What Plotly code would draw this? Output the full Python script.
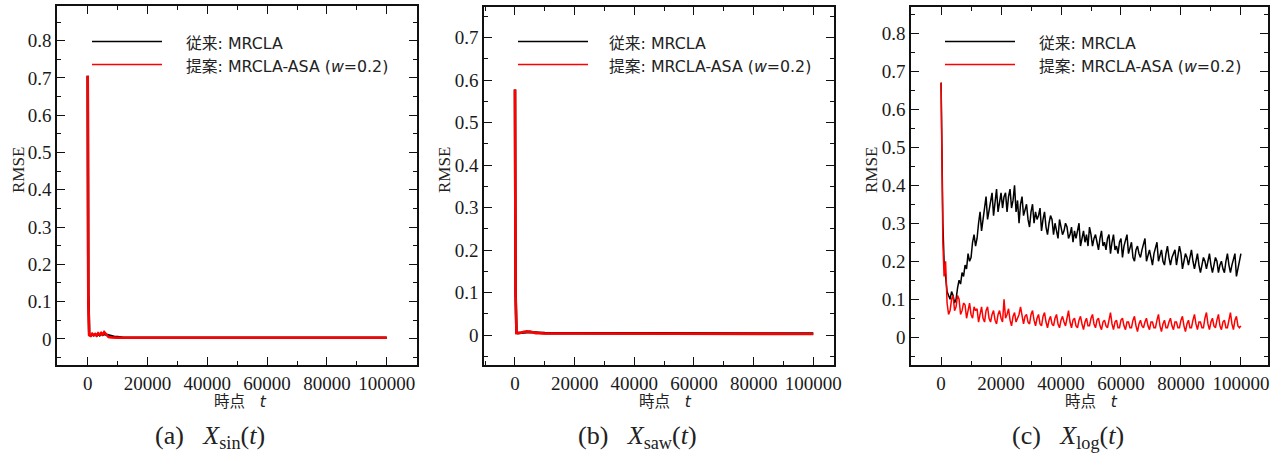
import plotly.graph_objects as go

# ---- (a) X_sin(t) ----
t_sin = [0, 200, 500, 1000, 1500, 2000, 2500, 3000, 3500, 4000, 4500, 5000,
         5500, 6000, 6500, 7000, 8000, 9000, 10000, 12000, 20000, 40000,
         60000, 80000, 100000]
rmse_sin_base = [0.706, 0.120, 0.012, 0.009, 0.012, 0.010, 0.012, 0.009, 0.013,
                 0.010, 0.014, 0.011, 0.013, 0.012, 0.009, 0.008, 0.006, 0.005,
                 0.005, 0.003, 0.003, 0.003, 0.003, 0.003, 0.003]
rmse_sin_prop = [0.706, 0.110, 0.010, 0.008, 0.014, 0.010, 0.013, 0.009, 0.015,
                 0.011, 0.016, 0.012, 0.018, 0.013, 0.008, 0.005, 0.004, 0.003,
                 0.003, 0.003, 0.003, 0.003, 0.003, 0.003, 0.003]

# ---- (b) X_saw(t) ----
t_saw = [0, 200, 500, 1000, 2000, 3000, 4000, 5000, 6000, 7000, 8000, 10000,
         20000, 40000, 40500, 60000, 80000, 100000]
rmse_saw_base = [0.578, 0.100, 0.006, 0.005, 0.006, 0.007, 0.008, 0.008, 0.007,
                 0.006, 0.006, 0.005, 0.005, 0.005, 0.004, 0.004, 0.004, 0.004]
rmse_saw_prop = [0.578, 0.090, 0.005, 0.005, 0.006, 0.008, 0.009, 0.008, 0.006,
                 0.005, 0.005, 0.004, 0.004, 0.004, 0.004, 0.003, 0.003, 0.003]

# ---- (c) X_log(t) ----
t_log = [0, 300, 600, 1000, 1500] + list(range(2000, 100001, 500))
rmse_log_base = [
    0.67, 0.45, 0.30, 0.20, 0.15,
    0.12, 0.11, 0.10, 0.12, 0.11, 0.09, 0.10, 0.13, 0.15, 0.14,
    0.17, 0.16, 0.19, 0.18, 0.22, 0.20, 0.21, 0.25, 0.27, 0.24,
    0.26, 0.30, 0.33, 0.28, 0.31, 0.35, 0.37, 0.31, 0.33, 0.36,
    0.38, 0.32, 0.35, 0.39, 0.33, 0.36, 0.38, 0.34, 0.37, 0.38,
    0.33, 0.37, 0.39, 0.34, 0.36, 0.40, 0.33, 0.36, 0.30, 0.35,
    0.37, 0.32, 0.34, 0.35, 0.31, 0.29, 0.33, 0.35, 0.30, 0.33,
    0.31, 0.32, 0.34, 0.28, 0.31, 0.33, 0.29, 0.27, 0.30, 0.32,
    0.31, 0.27, 0.30, 0.28, 0.26, 0.31, 0.29, 0.27, 0.28, 0.30,
    0.29, 0.26, 0.27, 0.29, 0.25, 0.28, 0.26, 0.28, 0.30, 0.24,
    0.26, 0.28, 0.25, 0.27, 0.24, 0.29, 0.27, 0.24, 0.26, 0.27,
    0.25, 0.23, 0.26, 0.28, 0.24, 0.25, 0.23, 0.26, 0.27, 0.22,
    0.25, 0.27, 0.23, 0.24, 0.22, 0.25, 0.26, 0.21, 0.24, 0.26,
    0.27, 0.22, 0.24, 0.25, 0.21, 0.20, 0.23, 0.24, 0.22, 0.21,
    0.23, 0.25, 0.26, 0.20, 0.22, 0.23, 0.21, 0.19, 0.22, 0.24,
    0.25, 0.20, 0.22, 0.23, 0.20, 0.19, 0.22, 0.24, 0.21, 0.19,
    0.21, 0.22, 0.23, 0.19, 0.21, 0.24, 0.22, 0.18, 0.20, 0.22,
    0.21, 0.19, 0.21, 0.23, 0.20, 0.18, 0.20, 0.22, 0.19, 0.17,
    0.19, 0.21, 0.20, 0.18, 0.20, 0.22, 0.19, 0.17, 0.19, 0.21,
    0.20, 0.17, 0.19, 0.20, 0.18, 0.17, 0.20, 0.22, 0.19, 0.17,
    0.19, 0.21, 0.22, 0.16, 0.18, 0.20, 0.22,
]
rmse_log_prop = [
    0.67, 0.42, 0.25, 0.16, 0.20,
    0.09, 0.06, 0.07, 0.10, 0.11, 0.07, 0.08, 0.11, 0.10, 0.06,
    0.07, 0.09, 0.085, 0.05, 0.07, 0.09, 0.06, 0.05, 0.08, 0.07,
    0.075, 0.04, 0.06, 0.08, 0.05, 0.04, 0.07, 0.08, 0.05, 0.04,
    0.06, 0.07, 0.045, 0.035, 0.06, 0.07, 0.05, 0.04, 0.10, 0.05,
    0.06, 0.075, 0.045, 0.03, 0.055, 0.065, 0.04, 0.05, 0.06, 0.08,
    0.05, 0.035, 0.055, 0.06, 0.04, 0.035, 0.06, 0.07, 0.045, 0.03,
    0.05, 0.06, 0.035, 0.03, 0.055, 0.065, 0.04, 0.025, 0.045, 0.055,
    0.035, 0.03, 0.05, 0.06, 0.035, 0.025, 0.045, 0.055, 0.04, 0.03,
    0.05, 0.07, 0.04, 0.025, 0.045, 0.05, 0.03, 0.025, 0.045, 0.055,
    0.035, 0.02, 0.04, 0.05, 0.03, 0.03, 0.05, 0.06, 0.035, 0.025,
    0.045, 0.05, 0.03, 0.02, 0.04, 0.045, 0.03, 0.025, 0.045, 0.065,
    0.035, 0.02, 0.04, 0.045, 0.025, 0.025, 0.045, 0.05, 0.03, 0.02,
    0.04, 0.04, 0.025, 0.025, 0.045, 0.055, 0.03, 0.015, 0.035, 0.045,
    0.03, 0.025, 0.04, 0.05, 0.03, 0.02, 0.04, 0.04, 0.025, 0.025,
    0.045, 0.06, 0.03, 0.015, 0.035, 0.045, 0.025, 0.025, 0.04, 0.05,
    0.03, 0.02, 0.04, 0.04, 0.025, 0.025, 0.045, 0.055, 0.03, 0.015,
    0.035, 0.045, 0.025, 0.025, 0.045, 0.06, 0.035, 0.02, 0.04, 0.04,
    0.025, 0.025, 0.05, 0.065, 0.035, 0.02, 0.04, 0.05, 0.03, 0.025,
    0.045, 0.06, 0.03, 0.02, 0.04, 0.045, 0.025, 0.025, 0.045, 0.065,
    0.035, 0.02, 0.045, 0.055, 0.03, 0.025, 0.03,
]

legend_base = "従来: MRCLA"
legend_prop = "提案: MRCLA-ASA (<i>w</i>=0.2)"
x_title = "時点&nbsp;&nbsp;&nbsp;<i>t</i>"
y_title = "RMSE"
captions = ["(a)&nbsp;&nbsp;&nbsp;<i>X</i><sub>sin</sub>(<i>t</i>)",
            "(b)&nbsp;&nbsp;&nbsp;<i>X</i><sub>saw</sub>(<i>t</i>)",
            "(c)&nbsp;&nbsp;&nbsp;<i>X</i><sub>log</sub>(<i>t</i>)"]

W, H = 1278, 461
BLACK, RED = "#000000", "#ff0000"

# plot-area boxes in pixels: (left, right, top, bottom)
boxes = [(57, 417, 6, 365), (484, 834, 7, 365), (911, 1268, 7, 365)]
x_ranges = [[-10270, 110130], [-10390, 106940], [-10030, 109030]]
y_ranges = [[-0.070, 0.893], [-0.070, 0.772], [-0.073, 0.869]]

panels = [
    (t_sin, rmse_sin_base, rmse_sin_prop, 2.6),
    (t_saw, rmse_saw_base, rmse_saw_prop, 2.6),
    (t_log, rmse_log_base, rmse_log_prop, 1.5),
]

fig = go.Figure()
for i, (tt, base, prop, lw) in enumerate(panels):
    sfx = "" if i == 0 else str(i + 1)
    fig.add_trace(go.Scatter(x=tt, y=base, mode="lines", name=legend_base,
                             line=dict(color=BLACK, width=lw),
                             xaxis="x" + sfx, yaxis="y" + sfx, showlegend=False))
    fig.add_trace(go.Scatter(x=tt, y=prop, mode="lines", name=legend_prop,
                             line=dict(color=RED, width=lw),
                             xaxis="x" + sfx, yaxis="y" + sfx, showlegend=False))

tick_font = dict(family="Liberation Serif, Times New Roman, serif", size=19, color="#1a1a1a")
layout = dict(width=W, height=H, margin=dict(l=0, r=0, t=0, b=0, autoexpand=False),
              paper_bgcolor="white", plot_bgcolor="white", showlegend=False)

shapes, annotations = [], []
sans = "DejaVu Sans, Noto Sans CJK JP, sans-serif"
for i, (l, r, t, b) in enumerate(boxes):
    sfx = "" if i == 0 else str(i + 1)
    layout["xaxis" + sfx] = dict(
        domain=[l / W, r / W], range=x_ranges[i], anchor="y" + sfx,
        automargin=False,
        tickmode="linear", tick0=0, dtick=20000, tickformat="d",
        ticks="inside", ticklen=8, tickwidth=1.3, tickcolor="#111",
        showline=True, linecolor="#111", linewidth=1.5, mirror="allticks",
        showgrid=False, zeroline=False, tickfont=tick_font,
        minor=dict(ticks="inside", ticklen=4, tickwidth=1.2,
                   tickcolor="#111", dtick=10000, tick0=0, showgrid=False))
    layout["yaxis" + sfx] = dict(
        domain=[1 - b / H, 1 - t / H], range=y_ranges[i], anchor="x" + sfx,
        automargin=False,
        tickmode="linear", tick0=0, dtick=0.1, tickformat="~g",
        ticks="inside", ticklen=8, tickwidth=1.3, tickcolor="#111",
        showline=True, linecolor="#111", linewidth=1.5, mirror="allticks",
        showgrid=False, zeroline=False, tickfont=tick_font,
        minor=dict(ticks="inside", ticklen=4, tickwidth=1.2,
                   tickcolor="#111", dtick=0.05, tick0=0, showgrid=False))

# legend samples and labels
legend_pos = [(92, 162, 184), (518, 588, 607), (945, 1015, 1037)]
for (x0, x1, xt) in legend_pos:
    for yy, col, txt in [(41.5, BLACK, legend_base), (64.5, RED, legend_prop)]:
        shapes.append(dict(type="line", xref="paper", yref="paper",
                           x0=x0 / W, x1=x1 / W, y0=1 - yy / H, y1=1 - yy / H,
                           line=dict(color=col, width=1.6)))
        annotations.append(dict(text=txt, xref="paper", yref="paper",
                                x=xt / W, y=1 - (yy + 1.5) / H, xanchor="left",
                                yanchor="middle", showarrow=False,
                                font=dict(family=sans, size=15.8, color="#222")))

# axis titles and captions
x_title_x = [240, 665, 1091]
y_title_x = [18, 444, 871]
caption_x = [210, 637, 1068]
for i in range(3):
    annotations.append(dict(text=x_title, xref="paper", yref="paper",
                            x=x_title_x[i] / W, y=1 - 402 / H, xanchor="center",
                            yanchor="middle", showarrow=False,
                            font=dict(family=sans, size=15.5, color="#222")))
    annotations.append(dict(text=y_title, xref="paper", yref="paper",
                            x=y_title_x[i] / W, y=1 - 170 / H, xanchor="center",
                            yanchor="middle", showarrow=False, textangle=-90,
                            font=dict(family="Liberation Serif, serif", size=17,
                                      color="#222")))
    annotations.append(dict(text=captions[i], xref="paper", yref="paper",
                            x=caption_x[i] / W, y=1 - 437 / H, xanchor="center",
                            yanchor="middle", showarrow=False,
                            font=dict(family="Liberation Serif, serif", size=26,
                                      color="#222")))

layout["shapes"] = shapes
layout["annotations"] = annotations
fig.update_layout(**layout)
fig.write_html("out.html")
